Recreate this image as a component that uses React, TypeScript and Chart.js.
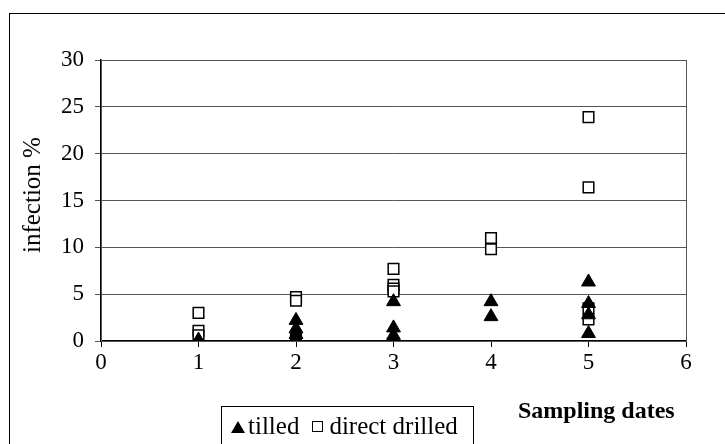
import React, { useEffect, useRef } from "react";
import { Chart, registerables } from "chart.js";

Chart.register(...registerables);

const tilledX = [1, 1, 2, 2, 2, 2, 3, 3, 3, 3, 4, 4, 5, 5, 5, 5];
const tilledY = [0, 0.1, 2.2, 1.3, 0.7, 0.2, 4.2, 1.4, 0.6, 0.3, 4.2, 2.6, 6.3, 4.0, 2.8, 0.8];
const drilledX = [1, 1, 1, 2, 2, 2, 3, 3, 3, 3, 4, 4, 5, 5, 5, 5];
const drilledY = [3.0, 1.1, 0.6, 4.7, 4.3, 0.2, 7.7, 6.0, 5.6, 5.3, 11.0, 9.8, 23.9, 16.4, 3.5, 2.3];
const xTicks = [0, 1, 2, 3, 4, 5, 6];
const yTicks = [0, 5, 10, 15, 20, 25, 30];

const FONT = "'Liberation Serif', 'Times New Roman', serif";

export default function App() {
  const ref = useRef<HTMLCanvasElement>(null);
  useEffect(() => {
    const frame = {
      id: "frame",
      afterDraw(chart: any) {
        const { ctx, chartArea: a } = chart;
        ctx.save();
        ctx.strokeStyle = "#555";
        ctx.lineWidth = 1;
        ctx.strokeRect(Math.round(a.left) + 0.5, Math.round(a.top) + 0.5, Math.round(a.right - a.left), Math.round(a.bottom - a.top));
        ctx.restore();
      },
    };
    const chart = new Chart(ref.current!, {
      type: "scatter",
      data: {
        datasets: [
          {
            label: "tilled",
            data: tilledX.map((x, i) => ({ x, y: tilledY[i] })),
            pointStyle: "triangle",
            pointRadius: 8,
            backgroundColor: "#000",
            borderColor: "#000",
            borderWidth: 1,
          },
          {
            label: "direct drilled",
            data: drilledX.map((x, i) => ({ x, y: drilledY[i] })),
            pointStyle: "rect",
            pointRadius: 7.5,
            backgroundColor: "#fff",
            borderColor: "#000",
            borderWidth: 1.5,
          },
        ],
      },
      plugins: [frame],
      options: {
        animation: false,
        responsive: false,
        layout: { padding: { left: 0, right: 39, top: 60, bottom: 0 } },
        plugins: { legend: { display: false }, tooltip: { enabled: false } },
        scales: {
          x: {
            type: "linear",
            min: 0,
            max: 6,
            afterBuildTicks: (s: any) => { s.ticks = xTicks.map((v) => ({ value: v })); },
            afterFit: (s: any) => { s.height = 103; },
            grid: { drawOnChartArea: false, drawTicks: true, tickLength: 6, color: "#000" },
            border: { color: "#000", width: 1.5 },
            ticks: { color: "#000", font: { family: FONT, size: 23 }, padding: 2, maxRotation: 0 },
          },
          y: {
            type: "linear",
            min: 0,
            max: 30,
            afterBuildTicks: (s: any) => { s.ticks = yTicks.map((v) => ({ value: v })); },
            afterFit: (s: any) => { s.width = 101; },
            grid: { color: "#555", tickLength: 6, lineWidth: 1 },
            border: { color: "#000", width: 1.5 },
            ticks: { color: "#000", font: { family: FONT, size: 23 }, padding: 11 },
          },
        },
      },
    } as any);
    return () => chart.destroy();
  }, []);

  return (
    <div style={{ position: "fixed", left: 0, top: 0, width: 725, height: 444, overflow: "hidden", background: "#fff" }}>
      <div style={{ position: "absolute", left: 9, top: 13, width: 800, height: 600, border: "1px solid #000" }} />
      <canvas ref={ref} width={725} height={444} style={{ position: "absolute", left: 0, top: 0 }} />
      <div
        style={{
          position: "absolute",
          left: 32,
          top: 195,
          transform: "translate(-50%, -50%) rotate(-90deg)",
          fontFamily: FONT,
          fontSize: 25,
          lineHeight: "28px",
          color: "#000",
          whiteSpace: "nowrap",
        }}
      >
        infection %
      </div>
      <div
        style={{
          position: "absolute",
          left: 221,
          top: 406,
          width: 253,
          height: 60,
          border: "1px solid #000",
          fontFamily: FONT,
          fontSize: 25,
          lineHeight: "28px",
          color: "#000",
          boxSizing: "border-box",
          paddingLeft: 9,
          paddingTop: 5,
          whiteSpace: "nowrap",
        }}
      >
        <span style={{ display: "inline-block", width: 0, height: 0, borderLeft: "7px solid transparent", borderRight: "7px solid transparent", borderBottom: "12px solid #000", verticalAlign: 1 }} />
        <span style={{ marginLeft: 3 }}>tilled</span>
        <span style={{ display: "inline-block", width: 9, height: 9, border: "1.5px solid #000", marginLeft: 13, marginRight: 6, verticalAlign: 2 }} />
        direct drilled
      </div>
      <div style={{ position: "absolute", left: 518, top: 397, fontFamily: FONT, fontSize: 24, fontWeight: "bold", color: "#000", whiteSpace: "nowrap" }}>
        Sampling dates
      </div>
    </div>
  );
}
